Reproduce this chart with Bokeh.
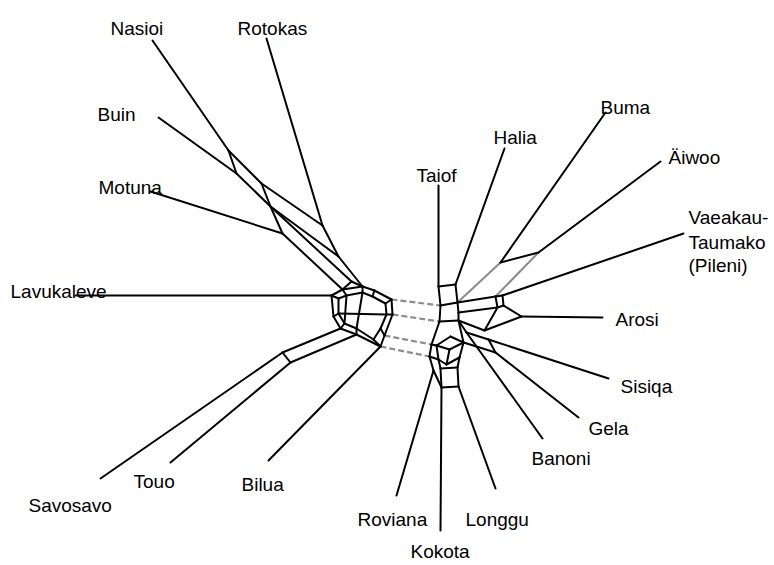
from bokeh.plotting import figure
from bokeh.models import Range1d, ColumnDataSource
from bokeh.core.properties import value
from bokeh.embed import file_html
from bokeh.resources import INLINE

# ---- network data (node positions of the splits graph) ----
leaf_names = ["nasioi", "rotokas", "buin", "motuna", "lavukaleve", "savosavo", "touo", "bilua",
              "roviana", "kokota", "longgu", "banoni", "gela", "sisiqa", "arosi", "vaeakau",
              "aiwoo", "buma", "halia", "taiof"]
leaf_x = [152, 266, 158, 150, 75, 100, 170, 268, 396, 440, 495, 542, 578, 608, 602, 683, 660, 605, 504, 438]
leaf_y = [40, 38, 117, 191, 295, 478, 462, 460, 495, 530, 488, 438, 417, 378, 317, 233, 161, 112, 148, 185]

inner_names = ["N1", "B1", "X1", "X2", "M1", "R1", "R2", "Z1",
               "O0", "O1", "O2", "O3", "O4", "O5", "O6", "O7", "O8", "O9", "O10",
               "I0", "I1", "I2", "I3", "I4", "I5", "I6", "I7", "I8", "I9", "I10",
               "S1", "T1",
               "T0", "H0", "C1", "C2", "C5", "C3", "C4",
               "G1", "G2", "BX0", "BX1", "BX2", "BX3", "A0", "D1",
               "E1", "E2", "E3", "E4",
               "L1", "L2", "L3", "K7", "Ka", "Kb", "Kc", "K5", "K6", "Kx",
               "V1", "V2", "V3", "V4"]
inner_x = [228, 236, 261, 270, 282, 322, 338, 351,
           331, 342, 362, 374, 391, 392, 384, 380, 356, 340, 333,
           338, 346, 362, 372, 385, 386, 380, 373, 356, 344, 338,
           282, 290,
           438, 455, 440, 457, 458, 439, 458,
           500, 538, 495, 502, 503, 497, 521, 484,
           466, 488, 495, 476,
           431, 429, 433, 436, 450, 463, 459, 446, 438, 449,
           440, 457, 458, 441]
inner_y = [150, 173, 183, 206, 233, 225, 256, 281,
           295, 289, 286, 290, 299, 314, 335, 346, 334, 328, 316,
           298, 295, 292, 296, 303, 314, 328, 339, 328, 323, 313,
           352, 362,
           286, 284, 305, 302, 312, 321, 320,
           262, 252, 296, 295, 305, 307, 316, 330,
           332, 339, 352, 346,
           344, 356, 370, 345, 336, 342, 357, 364, 359, 349,
           368, 367, 386, 387]

black_edges = [
    ("nasioi", "N1"), ("rotokas", "R1"), ("buin", "B1"), ("motuna", "M1"), ("lavukaleve", "O0"),
    ("savosavo", "S1"), ("touo", "T1"), ("bilua", "O7"), ("roviana", "L3"), ("kokota", "V4"),
    ("longgu", "V3"), ("banoni", "E4"), ("gela", "E3"), ("sisiqa", "E2"), ("arosi", "A0"),
    ("vaeakau", "BX1"), ("aiwoo", "G2"), ("buma", "G1"), ("halia", "H0"), ("taiof", "T0"),
    ("N1", "B1"), ("N1", "X1"), ("B1", "X2"), ("X1", "X2"), ("X1", "R1"), ("X2", "R2"),
    ("R1", "R2"), ("X2", "M1"), ("X2", "Z1"), ("M1", "O1"), ("R2", "O2"), ("Z1", "O1"), ("Z1", "O2"),
    ("I1", "I9"), ("I2", "I8"), ("I10", "I5"),
    ("S1", "O9"), ("T1", "O8"), ("S1", "T1"),
    ("T0", "H0"), ("T0", "C1"), ("H0", "C2"), ("C1", "C2"), ("C1", "C3"), ("C2", "C5"),
    ("C5", "C4"), ("C3", "C4"),
    ("C2", "BX0"), ("BX0", "BX1"), ("BX1", "BX2"), ("BX2", "BX3"), ("BX3", "BX0"),
    ("BX2", "A0"), ("A0", "D1"), ("D1", "BX3"), ("BX3", "C5"), ("D1", "C4"),
    ("G1", "G2"),
    ("E1", "E2"), ("E2", "E3"), ("E3", "E4"), ("E4", "E1"), ("C4", "E1"), ("E4", "Kb"),
    ("C3", "L1"), ("L1", "L2"), ("L2", "L3"), ("L1", "K7"), ("L2", "K6"),
    ("K7", "Ka"), ("Ka", "Kb"), ("Kb", "Kc"), ("Kc", "K5"), ("K5", "K6"), ("K6", "K7"),
    ("Kx", "K7"), ("Kx", "Kb"), ("Kx", "K5"), ("C4", "Kb"),
    ("K6", "V1"), ("Kc", "V2"), ("V1", "V2"), ("V2", "V3"), ("V3", "V4"), ("V4", "V1"), ("L3", "V4"),
]
ring_outer = ["O0", "O1", "O2", "O3", "O4", "O5", "O6", "O7", "O8", "O9", "O10"]
ring_inner = ["I0", "I1", "I2", "I3", "I4", "I5", "I6", "I7", "I8", "I9", "I10"]
grey_edges = [("G1", "C2"), ("G2", "BX0")]
dashed_edges = [("O4", "C1"), ("O5", "C3"), ("O6", "L1"), ("O7", "L2")]

label_text = ["Nasioi", "Rotokas", "Buin", "Motuna", "Lavukaleve", "Savosavo", "Touo", "Bilua",
              "Roviana", "Kokota", "Longgu", "Banoni", "Gela", "Sisiqa", "Arosi",
              "Vaeakau-", "Taumako", "(Pileni)", "Äiwoo", "Buma", "Halia", "Taiof"]
label_x = [110, 237, 97, 98, 10, 28, 133, 241, 357, 410, 465, 531, 588, 620, 615, 688, 688, 688, 668, 600, 493, 416]
label_y = [28, 28, 114, 187, 291, 505, 481, 484, 519, 551, 519, 458, 428, 386, 319, 217, 242, 265, 157, 107, 137, 175]

# ---- build ----
pos = {n: (x, y) for n, x, y in zip(leaf_names, leaf_x, leaf_y)}
pos.update({n: (x, y) for n, x, y in zip(inner_names, inner_x, inner_y)})

edges = list(black_edges)
for ring in (ring_outer, ring_inner):
    for i in range(len(ring)):
        edges.append((ring[i], ring[(i + 1) % len(ring)]))
for a, b in zip(ring_outer, ring_inner):
    edges.append((a, b))


def seg_source(edge_list):
    return ColumnDataSource(dict(
        x0=[pos[a][0] for a, b in edge_list], y0=[pos[a][1] for a, b in edge_list],
        x1=[pos[b][0] for a, b in edge_list], y1=[pos[b][1] for a, b in edge_list]))


p = figure(width=774, height=565, output_backend="svg", toolbar_location=None,
           x_range=Range1d(0, 774), y_range=Range1d(565, 0), min_border=0)
p.axis.visible = False
p.grid.visible = False
p.outline_line_color = None
p.background_fill_color = "white"

p.segment("x0", "y0", "x1", "y1", source=seg_source(dashed_edges), line_color="#8c8c8c",
          line_width=2.2, line_dash="6 3")
p.segment("x0", "y0", "x1", "y1", source=seg_source(grey_edges), line_color="#8a8a8a", line_width=2)
p.segment("x0", "y0", "x1", "y1", source=seg_source(edges), line_color="black", line_width=2,
          line_cap="round", line_join="round")

p.text(x=label_x, y=label_y, text=label_text, text_font=value("Liberation Sans"),
       text_font_size="19px", text_baseline="alphabetic", text_align="left", text_color="#000000")

open("out.html", "w").write(file_html(p, INLINE))
